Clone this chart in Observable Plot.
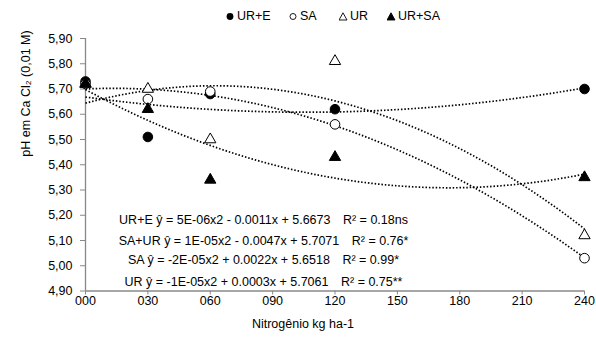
<!DOCTYPE html>
<html><head><meta charset="utf-8">
<script src="https://cdn.jsdelivr.net/npm/d3@7"></script>
<script src="https://cdn.jsdelivr.net/npm/@observablehq/plot@0.6"></script>
<style>
body{margin:0;background:#fff;font-family:"Liberation Sans",Arial,sans-serif}
#wrap{position:relative;width:596px;height:338px}
#legend{position:absolute;top:0;left:0;width:596px;height:30px;font-size:12.5px;color:#000}
#legend .it{position:absolute;top:9px;display:flex;align-items:center;white-space:nowrap}
</style></head><body><div id="wrap"><div id="plot"></div><div id="legend"></div></div>
<script>
// Nitrogen doses (kg ha-1)
const doses = [0, 30, 60, 120, 240];
// series names
const seriesNames = ["UR+E", "SA", "UR", "UR+SA"];
// pH values per series
const valsURE  = [5.73, 5.51, 5.68, 5.62, 5.70];
const valsSA   = [5.72, 5.66, 5.69, 5.56, 5.03];
const valsUR   = [5.72, 5.70, 5.50, 5.81, 5.12];
const valsURSA = [5.72, 5.62, 5.34, 5.43, 5.35];
// tick labels
const xTicks = [0, 30, 60, 90, 120, 150, 180, 210, 240];
const yTicks = [4.9, 5.0, 5.1, 5.2, 5.3, 5.4, 5.5, 5.6, 5.7, 5.8, 5.9];
// regression equation labels
const equations = [
  "UR+E ŷ = 5E-06x2 - 0.0011x + 5.6673\u2002\u2002R² = 0.18ns",
  "SA+UR ŷ = 1E-05x2 - 0.0047x + 5.7071\u2002\u2002R² = 0.76*",
  "SA ŷ = -2E-05x2 + 0.0022x + 5.6518\u2002\u2002R² = 0.99*",
  "UR ŷ = -1E-05x2 + 0.0003x + 5.7061\u2002\u2002R² = 0.75**"
];

const allVals = [valsURE, valsSA, valsUR, valsURSA];
const symbols = {"UR+E": ["circle", true], "SA": ["circle", false], "UR": ["triangle", false], "UR+SA": ["triangle", true]};

const points = [];
seriesNames.forEach((s, k) => doses.forEach((d, i) => points.push({series: s, dose: d, ph: allVals[k][i]})));

// least-squares quadratic fit
function quadFit(xs, ys) {
  const S = p => d3.sum(xs, x => x ** p);
  const T = p => d3.sum(xs, (x, i) => x ** p * ys[i]);
  const A = [[S(0), S(1), S(2), T(0)], [S(1), S(2), S(3), T(1)], [S(2), S(3), S(4), T(2)]];
  for (let c = 0; c < 3; c++) {
    for (let r = c + 1; r < 3; r++) {
      const f = A[r][c] / A[c][c];
      for (let k = c; k < 4; k++) A[r][k] -= f * A[c][k];
    }
  }
  const sol = [0, 0, 0];
  for (let r = 2; r >= 0; r--) {
    let v = A[r][3];
    for (let k = r + 1; k < 3; k++) v -= A[r][k] * sol[k];
    sol[r] = v / A[r][r];
  }
  return x => sol[0] + sol[1] * x + sol[2] * x * x;
}
const curves = [];
seriesNames.forEach((s, k) => {
  const f = quadFit(doses, allVals[k]);
  d3.range(0, 241, 2).forEach(x => curves.push({series: s, dose: x, ph: f(x)}));
});

const W = 596, H = 338, mL = 85, mR = 12, mT = 38, mB = 47.5;
const xs = d3.scaleLinear([0, 240], [mL, W - mR]);
const eqX = xs.invert(263);

const chart = Plot.plot({
  width: W, height: H,
  marginLeft: mL, marginRight: mR, marginTop: mT, marginBottom: mB,
  style: {fontFamily: "Liberation Sans, Arial, sans-serif", fontSize: "12.5px", color: "#000", background: "#fff"},
  x: {domain: [0, 240], ticks: xTicks, tickFormat: d => String(d).padStart(3, "0"), label: null},
  y: {domain: [4.9, 5.9], ticks: yTicks, tickFormat: d => d.toFixed(2).replace(".", ","), label: null},
  marks: [
    Plot.axisX({ticks: xTicks, tickFormat: d => String(d).padStart(3, "0"), tickSize: 4, tickPadding: 1, stroke: "#888", fill: "#000", label: null}),
    Plot.axisY({ticks: yTicks, tickFormat: d => d.toFixed(2).replace(".", ","), tickSize: 5, tickPadding: 8, stroke: "#888", fill: "#000", label: null}),
    Plot.ruleX([0], {stroke: "#888", strokeWidth: 1.3}),
    Plot.ruleY([4.9], {stroke: "#888", strokeWidth: 1.3}),
    Plot.line(curves, {x: "dose", y: "ph", z: "series", stroke: "#000", strokeWidth: 1.7, strokeDasharray: "1.5,1.9", strokeLinecap: "butt", curve: "linear"}),
    ...seriesNames.map(s => Plot.dot(points.filter(p => p.series === s), {
      x: "dose", y: "ph", symbol: symbols[s][0],
      r: symbols[s][0] === "circle" ? 4.8 : 4.2,
      fill: symbols[s][1] ? "#000" : "#fff", stroke: "#000", strokeWidth: 1
    })),
    Plot.text(equations, {x: eqX, y: (d, i) => [5.18, 5.10, 5.021, 4.935][i], text: d => d, textAnchor: "middle", fontSize: 12.5, fill: "#000"}),
    Plot.text(["pH em Ca Cl₂ (0,01 M)"], {frameAnchor: "left", dx: -60, dy: -8, rotate: -90, fontSize: 12.5, fill: "#000"}),
    Plot.text(["Nitrogênio kg ha-1"], {frameAnchor: "bottom", dx: -32, dy: 36.5, fontSize: 12.5, fill: "#000"})
  ]
});
document.getElementById("plot").appendChild(chart);

// legend
const legendItems = [
  {name: "UR+E", left: 226},
  {name: "SA", left: 289},
  {name: "UR", left: 339},
  {name: "UR+SA", left: 387}
];
const lg = document.getElementById("legend");
legendItems.forEach(it => {
  const [sym, filled] = symbols[it.name];
  const div = document.createElement("div");
  div.className = "it";
  div.style.left = it.left + "px";
  const fill = filled ? "#000" : "#fff";
  const shape = sym === "circle"
    ? (filled ? `<circle cx="4" cy="4.5" r="3.4" fill="#000"/>` : `<circle cx="4" cy="4.5" r="3" fill="#fff" stroke="#000" stroke-width="0.9"/>`)
    : `<path d="M4,0.8 L8,8 L0,8 Z" fill="${fill}" stroke="#000" stroke-width="0.9"/>`;
  div.innerHTML = `<svg width="9" height="9" style="margin-right:2px">${shape}</svg><span>${it.name}</span>`;
  lg.appendChild(div);
});
</script></body></html>
